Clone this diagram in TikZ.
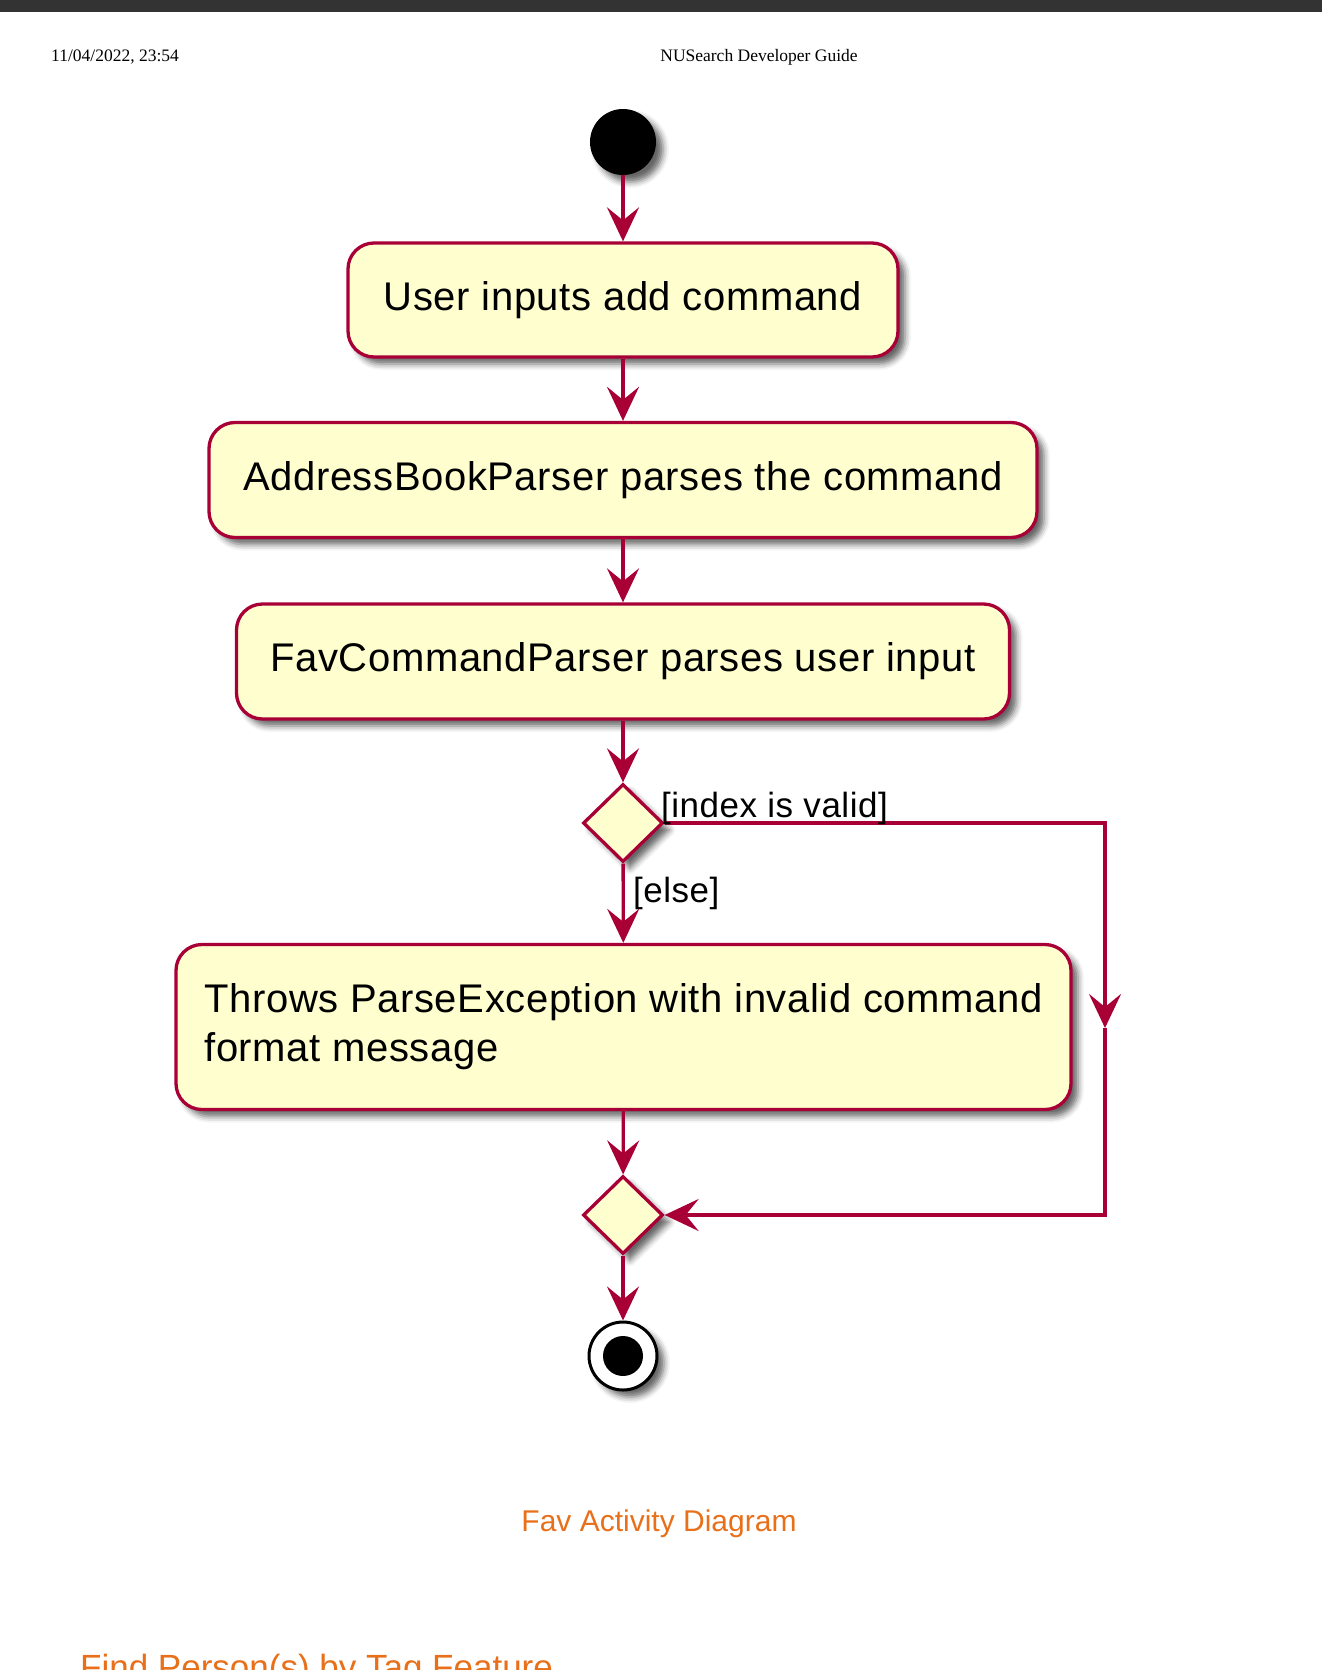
\documentclass[tikz,border=0pt]{standalone}
\usepackage{fontspec}
\setmainfont{Liberation Serif}
\newfontfamily\boxfont[LetterSpace=1.5]{Liberation Sans}
\newfontfamily\lblfont[LetterSpace=1.5]{Liberation Sans}
\newfontfamily\capfont{Liberation Sans}
\usetikzlibrary{arrows.meta,shapes.geometric,shadows.blur}
\definecolor{umlred}{HTML}{A80036}
\definecolor{umlfill}{HTML}{FEFECE}
\definecolor{capcol}{HTML}{E8701A}
\definecolor{topbar}{HTML}{333333}
\begin{document}
\begin{tikzpicture}[x=1pt,y=-1pt,
  shad/.style={blur shadow={shadow xshift=7pt, shadow yshift=-7pt, shadow blur radius=6pt, shadow opacity=60}},
  act/.style={draw=umlred, fill=umlfill, line width=3.3pt, rounded corners=26pt, shad,
    font=\boxfont\fontsize{40}{49}\selectfont, inner sep=0pt},
  dec/.style={diamond, draw=umlred, fill=umlfill, line width=3.3pt, shad, inner sep=0pt,
    minimum width=80pt, minimum height=78pt},
  lbl/.style={font=\lblfont\fontsize{35}{40}\selectfont, inner sep=0pt},
  flowline/.style={draw=umlred, line width=3.3pt},
  flow/.style={flowline, -{Stealth[length=34pt, width=32pt, inset=13pt]}},
  hdr/.style={font=\fontsize{17.5}{20}\selectfont, inner sep=0pt, anchor=base}
]
\useasboundingbox (0,0) rectangle (1322,1670);
\fill[topbar] (0,0) rectangle (1322,12);

\node[hdr, anchor=base west] (date) at (51,62) {11/04/2022, 23:54};
\node[hdr] (title) at (759,62) {NUSearch Developer Guide};

\node[circle, fill=black, minimum size=66pt, inner sep=0pt, shad] (start) at (623,142) {};
\node[act, minimum width=550pt, minimum height=114pt] (b1) at (623,300) {User inputs add command};
\node[act, minimum width=828pt, minimum height=115pt] (b2) at (623,480) {AddressBookParser parses the command};
\node[act, minimum width=773pt, minimum height=115pt] (b3) at (623,661.5) {FavCommandParser parses user input};
\node[dec] (d1) at (623,823) {};
\node[act, minimum width=895pt, minimum height=165pt, align=left] (b4) at (623.5,1027)
  {Throws ParseException with invalid command\\format message};
\node[dec] (d2) at (623,1215) {};
\node[circle, draw=black, line width=3pt, fill=white, minimum size=68pt, inner sep=0pt, shad] (end) at (623,1356) {};
\node[circle, fill=black, minimum size=40pt, inner sep=0pt] (endin) at (end.center) {};

\coordinate (r1) at (1105,823);
\coordinate (rm) at (1105,1028);
\coordinate (r2) at (1105,1215);

\draw[flow] (start) -- (b1);
\draw[flow] (b1) -- (b2);
\draw[flow] (b2) -- (b3);
\draw[flow] (b3) -- (d1);
\draw[flow] (d1) -- (b4);
\draw[flow] (b4) -- (d2);
\draw[flow] (d2) -- (end);
\draw[flow] (d1.east) -- (r1) -- (rm);
\draw[flow] (rm) -- (r2) -- (d2.east);

\node[lbl, anchor=base west] (lv) at (661,817) {[index is valid]};
\node[lbl, anchor=base west] (le) at (633,902) {[else]};

\node[font=\capfont\fontsize{30}{36}\selectfont, text=capcol, anchor=base, inner sep=0pt] (cap) at (659,1531) {Fav Activity Diagram};
\node[font=\capfont\fontsize{35}{42}\selectfont, text=capcol, anchor=base west, inner sep=0pt] (next) at (80,1679) {Find Person(s) by Tag Feature};
\end{tikzpicture}
\end{document}
